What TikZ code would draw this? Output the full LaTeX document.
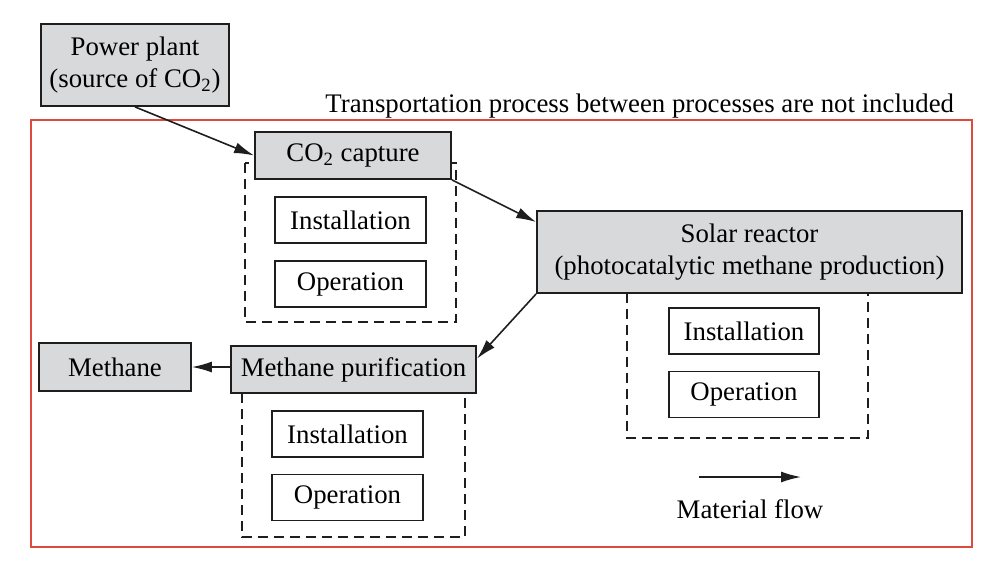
\documentclass[tikz,border=0pt]{standalone}
\usepackage{fontspec}
\setmainfont{Liberation Serif}
\usetikzlibrary{arrows.meta}
\definecolor{boxgray}{RGB}{216,217,219}
\definecolor{framered}{RGB}{222,74,62}
\definecolor{ink}{RGB}{30,30,30}
\tikzset{
  graybox/.style={draw=ink, line width=0.9pt, fill=boxgray, inner sep=0pt, align=center},
  whitebox/.style={draw=ink, line width=0.8pt, fill=white, inner sep=0pt, minimum width=75.5pt, minimum height=23pt},
  dashbox/.style={draw=ink, line width=0.75pt, dash pattern=on 5pt off 3pt},
  flow/.style={draw=ink, line width=0.8pt, -{Latex[length=10pt,width=5.5pt]}},
}
\begin{document}
\begin{tikzpicture}[x=0.5pt, y=-0.5pt, font=\fontsize{13.4}{16}\selectfont]
\useasboundingbox (0,0) rectangle (999,570);
% frame
\draw[framered, line width=1pt] (31,120) rectangle (972,547);
\node[anchor=base west, inner sep=0pt] (note) at (325,112) {Transportation process between processes are not included};
% dashed groups
\draw[dashbox] (245,163) rectangle (456,322);
\draw[dashbox] (627,293) rectangle (868,438);
\draw[dashbox] (242,393) rectangle (465,537);
% gray boxes
\node[graybox, minimum width=94pt, minimum height=41pt] (pp) at (135,65) {Power plant\\(source of CO\textsubscript{2})};
\node[graybox, minimum width=98pt, minimum height=23.5pt] (co2) at (353,155.5) {CO\textsubscript{2} capture};
\node[graybox, minimum width=212.5pt, minimum height=41pt] (solar) at (749.5,252) {Solar reactor\\(photocatalytic methane production)};
\node[graybox, minimum width=76pt, minimum height=24pt] (meth) at (115,367) {Methane};
\node[graybox, minimum width=122.5pt, minimum height=23.5pt] (mp) at (353.5,369.5) {Methane purification};
% white boxes
\node[whitebox] (i1) at (350.5,220) {Installation};
\node[whitebox] (o1) at (350.5,284) {Operation};
\node[whitebox, minimum width=75pt] (i2) at (744,331) {Installation};
\node[whitebox, minimum width=75pt] (o2) at (744,394.5) {Operation};
\node[whitebox] (i3) at (347.5,434) {Installation};
\node[whitebox] (o3) at (347.5,497.5) {Operation};
% arrows
\draw[flow] (pp.south) -- (co2.west);
\draw[flow] (co2.south east) -- (solar.172);
\draw[flow] (solar.south west) -- (mp.5);
\draw[flow] (mp.west |- meth.east) -- (meth.east);
% legend
\coordinate (lg1) at (699,477);
\coordinate (lg2) at (801,477);
\draw[flow] (lg1) -- (lg2);
\node (lgt) at (750,509) {Material flow};
\end{tikzpicture}
\end{document}
